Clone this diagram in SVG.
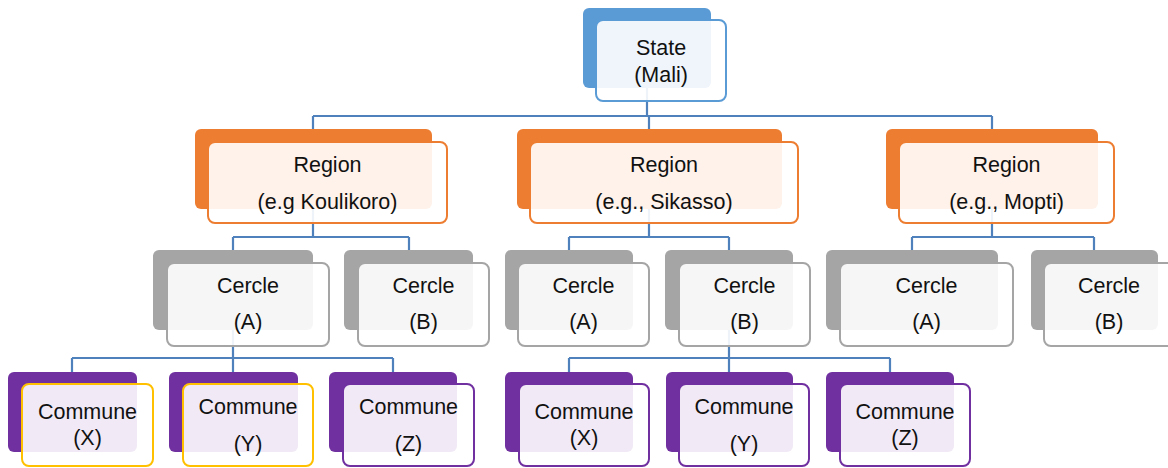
<svg xmlns="http://www.w3.org/2000/svg" width="1168" height="468" viewBox="0 0 1168 468">
<style>
.bk{stroke:none}
.fr{fill:#fff;fill-opacity:0.9;stroke-width:2}
.blue{fill:#5B9BD5}.orange{fill:#ED7D31}.gray{fill:#A5A5A5}.purple{fill:#7030A0}
.sb{stroke:#5B9BD5}.so{stroke:#ED7D31}.sg{stroke:#A5A5A5}.sp{stroke:#7030A0}.sy{stroke:#FFC000}
text{font-family:"Liberation Sans",Arial,sans-serif;font-size:21.5px;fill:#111;text-anchor:middle}
.cn{fill:none;stroke:#4F81BD;stroke-width:2.2}
</style>
<rect width="1168" height="468" fill="#fff"/>
<g id="connectors" class="cn">
<path d="M647,88V116M313,116H992M313,116V129M649,116V129M992,116V129"/>
<path d="M313,209V237M233,237H409M233,237V250M409,237V250"/>
<path d="M649,209V237M569,237H729M569,237V250M729,237V250"/>
<path d="M992,209V237M912,237H1094M912,237V250M1094,237V250"/>
<path d="M233,330V358M72,358H393M72,358V372M233,358V372M393,358V372"/>
<path d="M729,330V358M569,358H890M569,358V372M729,358V372M890,358V372"/>
</g>
<g id="state">
<rect class="bk blue" x="583" y="8" width="128" height="80" rx="6"/>
<rect class="fr sb" x="596" y="20" width="130" height="81" rx="7"/>
<text x="661" y="55">State</text><text x="661" y="82">(Mali)</text>
</g>
<g id="region1">
<rect class="bk orange" x="195" y="129" width="237" height="80" rx="6"/>
<rect class="fr so" x="208" y="142" width="239" height="81" rx="7"/>
<text x="327.5" y="172">Region</text><text x="327.5" y="209">(e.g Koulikoro)</text>
</g>
<g id="region2">
<rect class="bk orange" x="517" y="129" width="265" height="80" rx="6"/>
<rect class="fr so" x="530" y="142" width="268" height="81" rx="7"/>
<text x="664" y="172">Region</text><text x="664" y="209">(e.g., Sikasso)</text>
</g>
<g id="region3">
<rect class="bk orange" x="886" y="129" width="212" height="80" rx="6"/>
<rect class="fr so" x="899" y="142" width="215" height="81" rx="7"/>
<text x="1006.5" y="172">Region</text><text x="1006.5" y="209">(e.g., Mopti)</text>
</g>
<g id="cercle-a1">
<rect class="bk gray" x="153" y="250" width="160" height="80" rx="6"/>
<rect class="fr sg" x="167" y="263" width="162" height="83" rx="7"/>
<text x="248" y="293">Cercle</text><text x="248" y="329">(A)</text>
</g>
<g id="cercle-b1">
<rect class="bk gray" x="344" y="250" width="129" height="80" rx="6"/>
<rect class="fr sg" x="358" y="263" width="131" height="83" rx="7"/>
<text x="423.5" y="293">Cercle</text><text x="423.5" y="329">(B)</text>
</g>
<g id="cercle-a2">
<rect class="bk gray" x="505" y="250" width="128" height="80" rx="6"/>
<rect class="fr sg" x="518" y="263" width="131" height="83" rx="7"/>
<text x="583.5" y="293">Cercle</text><text x="583.5" y="329">(A)</text>
</g>
<g id="cercle-b2">
<rect class="bk gray" x="665" y="250" width="128" height="80" rx="6"/>
<rect class="fr sg" x="679" y="263" width="131" height="83" rx="7"/>
<text x="744.5" y="293">Cercle</text><text x="744.5" y="329">(B)</text>
</g>
<g id="cercle-a3">
<rect class="bk gray" x="826" y="250" width="172" height="80" rx="6"/>
<rect class="fr sg" x="840" y="263" width="173" height="83" rx="7"/>
<text x="926.5" y="293">Cercle</text><text x="926.5" y="329">(A)</text>
</g>
<g id="cercle-b3">
<rect class="bk gray" x="1031" y="250" width="127" height="80" rx="6"/>
<rect class="fr sg" x="1044" y="263" width="131" height="83" rx="7"/>
<text x="1109" y="293">Cercle</text><text x="1109" y="329">(B)</text>
</g>
<g id="commune-x1">
<rect class="bk purple" x="8" y="372" width="129" height="80" rx="6"/>
<rect class="fr sy" x="22" y="384" width="131" height="82" rx="7"/>
<text x="87.5" y="419">Commune</text><text x="87.5" y="445">(X)</text>
</g>
<g id="commune-y1">
<rect class="bk purple" x="169" y="372" width="129" height="80" rx="6"/>
<rect class="fr sy" x="183" y="384" width="130" height="82" rx="7"/>
<text x="248" y="414">Commune</text><text x="248" y="451">(Y)</text>
</g>
<g id="commune-z1">
<rect class="bk purple" x="329" y="372" width="128" height="80" rx="6"/>
<rect class="fr sp" x="343" y="384" width="131" height="82" rx="7"/>
<text x="408.5" y="414">Commune</text><text x="408.5" y="451">(Z)</text>
</g>
<g id="commune-x2">
<rect class="bk purple" x="505" y="372" width="128" height="80" rx="6"/>
<rect class="fr sp" x="519" y="384" width="130" height="82" rx="7"/>
<text x="584" y="419">Commune</text><text x="584" y="445">(X)</text>
</g>
<g id="commune-y2">
<rect class="bk purple" x="666" y="372" width="127" height="80" rx="6"/>
<rect class="fr sp" x="679" y="384" width="130" height="82" rx="7"/>
<text x="744" y="414">Commune</text><text x="744" y="451">(Y)</text>
</g>
<g id="commune-z2">
<rect class="bk purple" x="826" y="372" width="128" height="80" rx="6"/>
<rect class="fr sp" x="840" y="384" width="130" height="82" rx="7"/>
<text x="905" y="419">Commune</text><text x="905" y="445">(Z)</text>
</g>
</svg>
